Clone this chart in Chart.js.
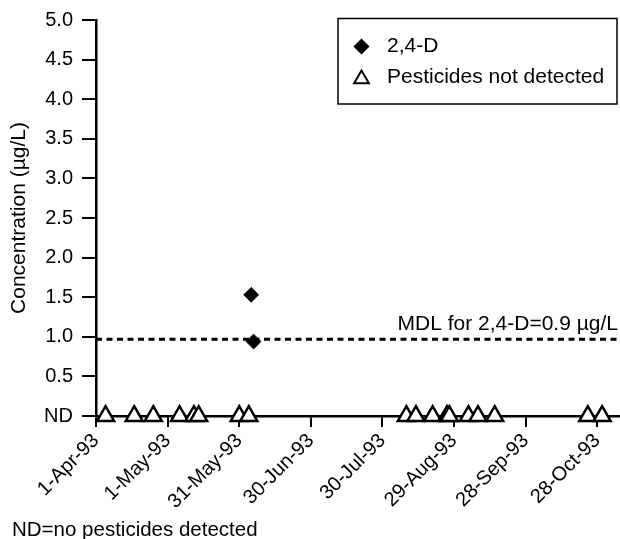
<!DOCTYPE html>
<html>
<head>
<meta charset="utf-8">
<script src="https://cdn.jsdelivr.net/npm/chart.js@4.4.1/dist/chart.umd.min.js"></script>
<style>
  html, body { margin: 0; padding: 0; background: #ffffff; }
  #wrap { width: 620px; height: 539px; position: relative; }
</style>
</head>
<body>
<div id="wrap"><canvas id="c" width="620" height="539"></canvas></div>
<script>
// ---------- data ----------
const tickLabels = ['1-Apr-93', '1-May-93', '31-May-93', '30-Jun-93', '30-Jul-93', '29-Aug-93', '28-Sep-93', '28-Oct-93'];
const detectDates = ['1993-06-05', '1993-06-06'];
const detectValues = [1.53, 0.94];
const ndDates = ['1993-04-05', '1993-04-17', '1993-04-25', '1993-05-06', '1993-05-12', '1993-05-14',
                 '1993-05-31', '1993-06-04', '1993-08-09', '1993-08-13', '1993-08-20', '1993-08-26',
                 '1993-08-27', '1993-09-04', '1993-09-08', '1993-09-15', '1993-10-24', '1993-10-30'];
const ndValues = [0, 0, 0, 0, 0, 0, 0, 0, 0, 0, 0, 0, 0, 0, 0, 0, 0, 0];
const mdlValue = 0.97;
const mdlLabel = 'MDL for 2,4-D=0.9 µg/L';
const seriesNames = ['2,4-D', 'Pesticides not detected'];
const yTitle = 'Concentration (µg/L)';
const footnote = 'ND=no pesticides detected';

// ---------- helpers ----------
const MONTHS = {Jan:0, Feb:1, Mar:2, Apr:3, May:4, Jun:5, Jul:6, Aug:7, Sep:8, Oct:9, Nov:10, Dec:11};
const DAY0 = Date.UTC(1993, 3, 1);
function isoToDay(s) { const p = s.split('-').map(Number); return (Date.UTC(p[0], p[1] - 1, p[2]) - DAY0) / 86400000; }
function labelToDay(s) { const p = s.split('-'); return (Date.UTC(1900 + Number(p[2]), MONTHS[p[1]], Number(p[0])) - DAY0) / 86400000; }
const tickDays = tickLabels.map(labelToDay);

const FONT = "'Liberation Sans', Arial, sans-serif";

const detectPts = detectDates.map((d, i) => ({x: isoToDay(d), y: detectValues[i]}));
const ndPts = ndDates.map((d, i) => ({x: isoToDay(d), y: ndValues[i]}));
const X_MIN = 0, X_MAX = 219.5;

const overlay = {
  id: 'overlay',
  afterDraw(chart) {
    const ctx = chart.ctx;
    const H = Chart.helpers;
    ctx.save();
    // legend box
    ctx.lineWidth = 1.5;
    ctx.strokeStyle = '#000';
    ctx.strokeRect(338, 18.5, 279, 85.5);
    H.drawPoint(ctx, {pointStyle: 'rectRot', radius: 7, rotation: 0, borderWidth: 1}, 361.5, 46.5);
    ctx.fillStyle = '#000';
    ctx.fill();
    ctx.fillStyle = '#fff';
    ctx.strokeStyle = '#000';
    ctx.lineWidth = 2;
    H.drawPoint(ctx, {pointStyle: 'triangle', radius: 8.5, rotation: 0, borderWidth: 2}, 361.5, 79);
    ctx.fillStyle = '#000';
    ctx.font = '21px ' + FONT;
    ctx.textBaseline = 'middle';
    ctx.textAlign = 'left';
    ctx.fillText(seriesNames[0], 387, 46);
    ctx.fillText(seriesNames[1], 387, 77);
    // MDL label
    const yS = chart.scales.y;
    ctx.textAlign = 'right';
    ctx.textBaseline = 'alphabetic';
    ctx.fillText(mdlLabel, 618, yS.getPixelForValue(mdlValue) - 9);
    // footnote
    ctx.textAlign = 'left';
    ctx.font = '20.5px ' + FONT;
    ctx.fillText(footnote, 12, 536);
    ctx.restore();
  }
};

new Chart(document.getElementById('c'), {
  type: 'scatter',
  data: {
    datasets: [
      {
        label: 'MDL',
        type: 'line',
        data: [{x: X_MIN, y: mdlValue}, {x: X_MAX, y: mdlValue}],
        borderColor: '#000',
        borderWidth: 3,
        borderDash: [6, 4.5],
        pointRadius: 0,
        fill: false,
        order: 3
      },
      {
        label: seriesNames[1],
        data: ndPts,
        pointStyle: 'triangle',
        pointRadius: 9.8,
        backgroundColor: '#fff',
        borderColor: '#000',
        borderWidth: 2.5,
        order: 2
      },
      {
        label: seriesNames[0],
        data: detectPts,
        pointStyle: 'rectRot',
        pointRadius: 7.4,
        backgroundColor: '#000',
        borderColor: '#000',
        borderWidth: 1,
        order: 1
      }
    ]
  },
  options: {
    responsive: false,
    animation: false,
    clip: false,
    layout: { autoPadding: false, padding: { top: 20, right: 0, bottom: 0, left: 0 } },
    plugins: { legend: { display: false }, tooltip: { enabled: false } },
    scales: {
      x: {
        type: 'linear',
        min: X_MIN,
        max: X_MAX,
        afterBuildTicks(scale) { scale.ticks = tickDays.map(v => ({value: v})); },
        afterFit(scale) { scale.height = 123; scale.paddingRight = 0; scale.paddingLeft = 0; },
        ticks: {
          autoSkip: false,
          minRotation: 45,
          maxRotation: 45,
          padding: 2,
          color: '#000',
          font: { family: FONT, size: 20 },
          callback: (v, i) => tickLabels[i]
        },
        grid: { display: true, drawOnChartArea: false, drawTicks: true, tickLength: 11, color: '#000', lineWidth: 2 },
        border: { display: true, color: '#000', width: 2.5 }
      },
      y: {
        min: 0,
        max: 5,
        afterFit(scale) { scale.width = 96; scale.paddingTop = 0; scale.paddingBottom = 0; },
        ticks: {
          stepSize: 0.5,
          padding: 9,
          color: '#000',
          font: { family: FONT, size: 20 },
          callback: v => (v === 0 ? 'ND' : v.toFixed(1))
        },
        grid: { display: true, drawOnChartArea: false, drawTicks: true, tickLength: 14, color: '#000', lineWidth: 2 },
        border: { display: true, color: '#000', width: 2.5 },
        title: {
          display: true,
          text: yTitle,
          color: '#000',
          font: { family: FONT, size: 21 },
          padding: { top: 7, bottom: 0 }
        }
      }
    }
  },
  plugins: [overlay]
});
</script>
</body>
</html>
